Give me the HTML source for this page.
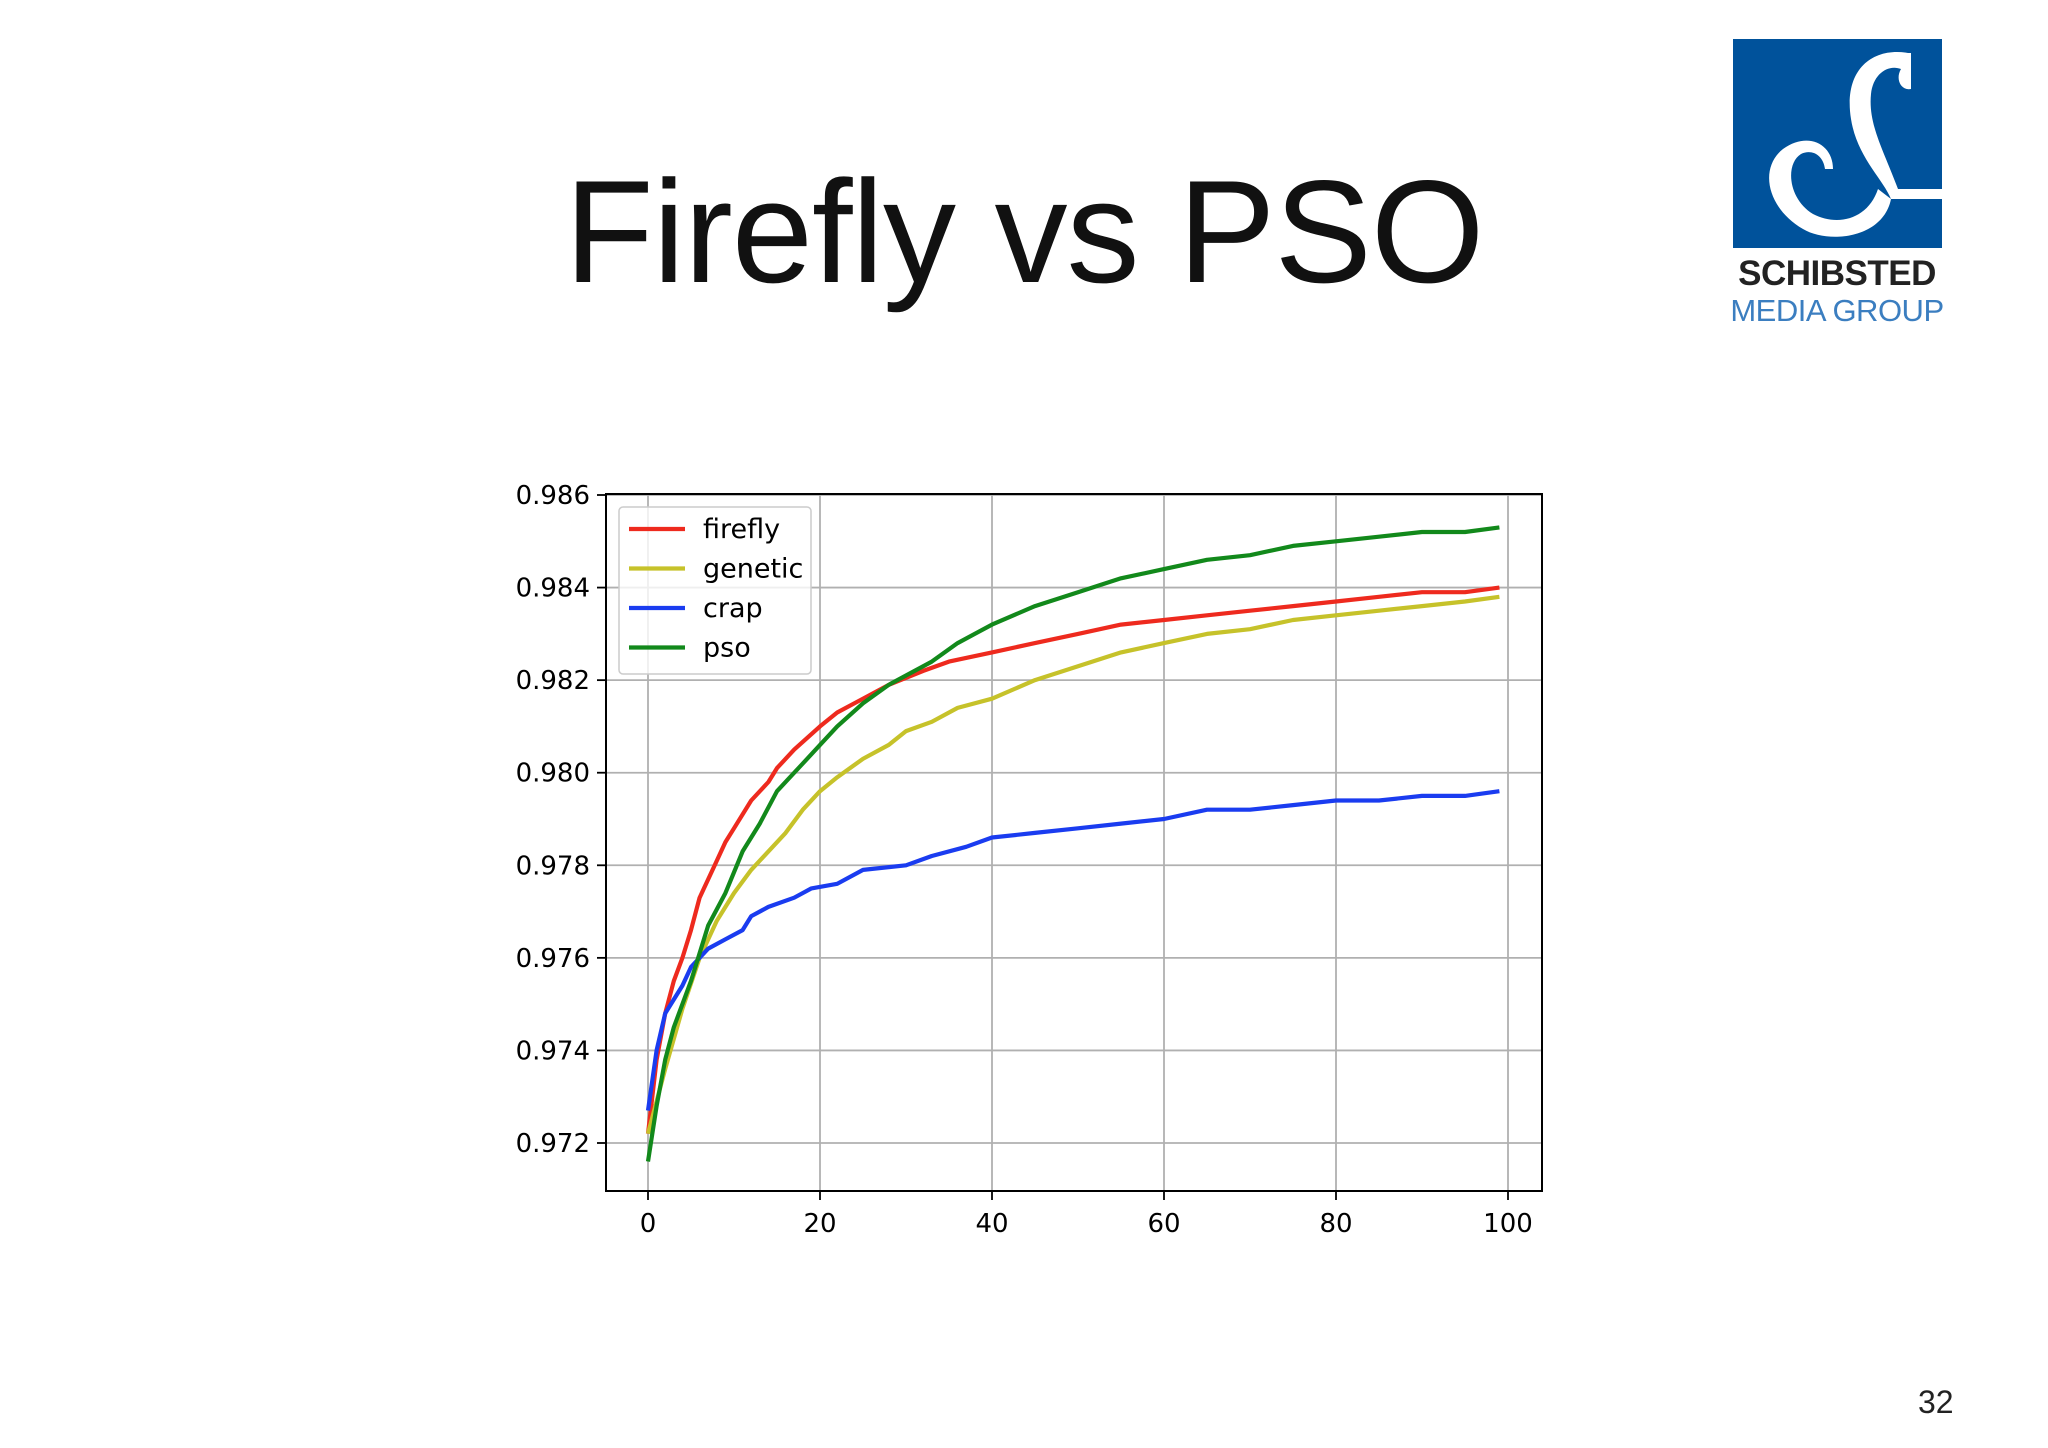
<!DOCTYPE html>
<html><head><meta charset="utf-8">
<style>
html,body{margin:0;padding:0;background:#fff;}
body{width:2048px;height:1448px;position:relative;overflow:hidden;font-family:"Liberation Sans","DejaVu Sans",sans-serif;}
#title{position:absolute;left:0;width:2048px;top:148px;text-align:center;font-size:146px;color:#111;letter-spacing:-1px;white-space:nowrap;}
#logo{position:absolute;left:1733px;top:39px;width:209px;height:209px;background:#00529b;overflow:hidden;}
#l1{position:absolute;left:1722px;top:254px;width:230px;text-align:center;font-weight:bold;font-size:35px;color:#222;white-space:nowrap;letter-spacing:-0.5px;}
#l2{position:absolute;left:1722px;top:293px;width:230px;text-align:center;font-size:31px;color:#3b7ec0;white-space:nowrap;letter-spacing:-0.5px;}
#pg{position:absolute;left:1918px;top:1384px;font-size:32px;color:#222;}
svg{position:absolute;left:0;top:0;}
</style></head><body>
<div id="title">Firefly vs PSO</div>
<div id="logo">
<svg width="209" height="209" viewBox="0 0 209 209" style="position:absolute;left:0;top:0">
<path d="M175 14 C140 8 110 30 118 80 C124 118 150 140 158 160 L209 160 L209 150 L165 150 C150 110 135 85 138 55 C140 35 155 25 168 30 C162 40 168 52 178 50 L178 14 Z" fill="#fff"/>
<path d="M158 160 C150 200 95 205 70 190 C35 170 25 130 50 110 C75 92 100 105 100 130 L92 130 C90 115 78 110 68 115 C52 125 55 160 80 175 C105 188 135 180 145 150 Z" fill="#fff"/>
</svg></div>
<div id="l1">SCHIBSTED</div>
<div id="l2">MEDIA GROUP</div>
<div id="pg">32</div>
<svg id="chart" width="2048" height="1448"></svg>
<script>
const xTicks=[0,20,40,60,80,100];
const yTicks=[0.972,0.974,0.976,0.978,0.980,0.982,0.984,0.986];
const yTickLabels=["0.972","0.974","0.976","0.978","0.980","0.982","0.984","0.986"];
const fireflyX=[0,1,2,3,4,5,6,7,8,9,10,12,14,15,17,20,22,25,28,32,35,40,45,50,55,60,65,70,75,80,85,90,95,99];
const fireflyY=[0.9722,0.9738,0.9748,0.9755,0.9760,0.9766,0.9773,0.9777,0.9781,0.9785,0.9788,0.9794,0.9798,0.9801,0.9805,0.9810,0.9813,0.9816,0.9819,0.9822,0.9824,0.9826,0.9828,0.9830,0.9832,0.9833,0.9834,0.9835,0.9836,0.9837,0.9838,0.9839,0.9839,0.9840];
const geneticX=[0,2,4,6,8,10,12,14,16,18,20,22,25,28,30,33,36,40,45,50,55,60,65,70,75,80,85,90,95,99];
const geneticY=[0.9722,0.9736,0.9749,0.9760,0.9768,0.9774,0.9779,0.9783,0.9787,0.9792,0.9796,0.9799,0.9803,0.9806,0.9809,0.9811,0.9814,0.9816,0.9820,0.9823,0.9826,0.9828,0.9830,0.9831,0.9833,0.9834,0.9835,0.9836,0.9837,0.9838];
const crapX=[0,1,2,4,5,7,9,11,12,14,17,19,22,25,30,33,37,40,45,50,55,60,65,70,75,80,85,90,95,99];
const crapY=[0.9727,0.9740,0.9748,0.9754,0.9758,0.9762,0.9764,0.9766,0.9769,0.9771,0.9773,0.9775,0.9776,0.9779,0.9780,0.9782,0.9784,0.9786,0.9787,0.9788,0.9789,0.9790,0.9792,0.9792,0.9793,0.9794,0.9794,0.9795,0.9795,0.9796];
const psoX=[0,1,2,3,5,7,9,11,13,15,18,20,22,25,28,30,33,36,40,45,50,55,60,65,70,75,80,85,90,95,99];
const psoY=[0.9716,0.9728,0.9738,0.9745,0.9755,0.9767,0.9774,0.9783,0.9789,0.9796,0.9802,0.9806,0.9810,0.9815,0.9819,0.9821,0.9824,0.9828,0.9832,0.9836,0.9839,0.9842,0.9844,0.9846,0.9847,0.9849,0.9850,0.9851,0.9852,0.9852,0.9853];
const seriesNames=["firefly","genetic","crap","pso"];
const seriesColors=["#ee2a1e","#c6c22a","#1a3cf0","#12891b"];
const seriesXs=[fireflyX,geneticX,crapX,psoX];
const seriesYs=[fireflyY,geneticY,crapY,psoY];

const L=606,R=1542,T=494,B=1191;
const sx=v=>648+(v-0)*(1508-648)/100;
const sy=v=>1143+(v-0.972)*(495-1143)/0.014;
const svg=document.getElementById('chart');
const NS='http://www.w3.org/2000/svg';
function mk(t,a){const e=document.createElementNS(NS,t);for(const k in a)e.setAttribute(k,a[k]);svg.appendChild(e);return e;}
mk('rect',{x:L,y:T,width:R-L,height:B-T,fill:'#fff'});
xTicks.forEach(v=>{
 const g=mk('line',{x1:sx(v),x2:sx(v),y1:T,y2:B,stroke:'#b0b0b0','stroke-width':1.8});
 
 
 const tk=mk('line',{x1:sx(v),x2:sx(v),y1:B,y2:B+9,stroke:'#000','stroke-width':1.8});
 
 
 const t=mk('text',{x:sx(v),y:B+41,'text-anchor':'middle','font-size':26,'font-family':'DejaVu Sans, sans-serif',fill:'#000'});
 t.textContent=String(v);
 
 
});
yTicks.forEach((v,i)=>{
 const g=mk('line',{x1:L,x2:R,y1:sy(v),y2:sy(v),stroke:'#b0b0b0','stroke-width':1.8});
 
 
 const tk=mk('line',{x1:L-9,x2:L,y1:sy(v),y2:sy(v),stroke:'#000','stroke-width':1.8});
 
 
 const t=mk('text',{x:L-16,y:sy(v)+9,'text-anchor':'end','font-size':26,'font-family':'DejaVu Sans, sans-serif',fill:'#000'});
 t.textContent=yTickLabels[i];
 
 
});
seriesNames.forEach((n,i)=>{
 const pts=seriesXs[i].map((x,j)=>sx(x).toFixed(1)+','+sy(seriesYs[i][j]).toFixed(1)).join(' ');
 const p=mk('polyline',{points:pts,fill:'none',stroke:seriesColors[i],'stroke-width':4.2,'stroke-linejoin':'round'});
 
 
});
const fr=mk('rect',{x:L,y:T,width:R-L,height:B-T,fill:'none',stroke:'#000','stroke-width':2});


const lg=mk('rect',{x:619,y:507,width:192,height:167,rx:4,fill:'#fff','fill-opacity':0.8,stroke:'#ccc','stroke-width':1.5});


seriesNames.forEach((n,i)=>{
 const y=529+i*39.5;
 const l=mk('line',{x1:629,x2:685,y1:y,y2:y,stroke:seriesColors[i],'stroke-width':4.2});
 
 
 const t=mk('text',{x:703,y:y+9,'font-size':27,'font-family':'DejaVu Sans, sans-serif',fill:'#000'});
 t.textContent=n;
 
 
});
</script>
</body></html>
